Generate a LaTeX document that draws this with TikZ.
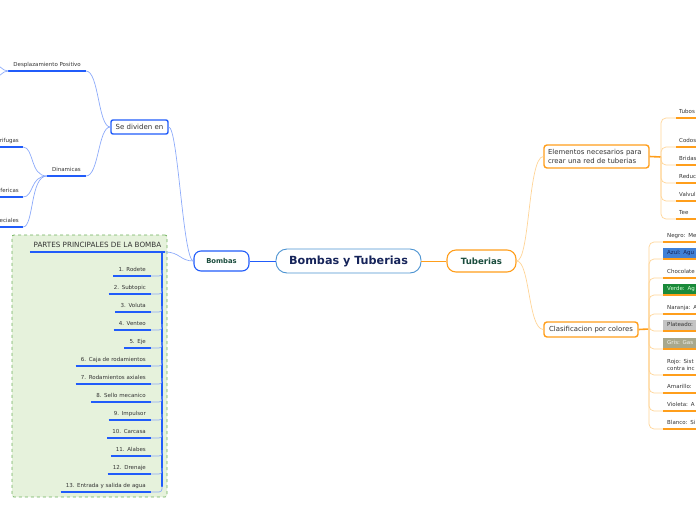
\documentclass[tikz,border=0pt]{standalone}
\usepackage{fontspec}
\setmainfont{DejaVu Sans}
\definecolor{bstrong}{RGB}{33,92,250}
\definecolor{blight}{RGB}{140,170,250}
\definecolor{ostrong}{RGB}{255,158,27}
\definecolor{olight}{RGB}{255,212,150}
\definecolor{gborder}{RGB}{110,176,90}
\definecolor{gfill}{RGB}{230,242,220}
\definecolor{cborder}{RGB}{75,147,209}
\definecolor{navy}{RGB}{22,36,90}
\definecolor{dgreen}{RGB}{27,77,62}
\definecolor{txt}{RGB}{51,51,51}
\definecolor{azulf}{RGB}{64,128,214}
\definecolor{verdef}{RGB}{26,138,58}
\definecolor{platef}{RGB}{196,196,196}
\definecolor{grisf}{RGB}{168,168,140}
\tikzset{
  item/.style={font=\fontsize{5.5}{7}\selectfont, text=txt, inner xsep=5pt, inner ysep=2.5pt, text height=4pt, text depth=1.5pt},
  ritem/.style={item, anchor=south west, text width=40pt, align=left, inner xsep=4pt},
  bul/.style={bstrong, line width=1.6pt},
  oul/.style={ostrong, line width=1.6pt},
  blc/.style={blight, line width=0.7pt},
  olc/.style={olight, line width=0.7pt},
}
\begin{document}
\begin{tikzpicture}[x=1pt,y=-1pt]
\useasboundingbox (0,0) rectangle (696,520);

% frame
\node[draw=gborder, fill=gfill, dashed, line width=0.8pt, rounded corners=2pt,
      minimum width=155pt, minimum height=262pt, inner sep=0pt] (frame) at (89.5,366) {};

% main nodes
\node[draw=cborder, fill=white, line width=0.9pt, rounded corners=11pt, minimum width=145pt,
      minimum height=24pt, text=navy, font=\fontsize{11.2}{13}\selectfont\bfseries] (center) at (348.5,261) {Bombas y Tuberias};
\node[draw=bstrong, fill=white, line width=1.1pt, rounded corners=7pt, minimum width=55pt,
      minimum height=20pt, text=dgreen, font=\fontsize{6.8}{8}\selectfont\bfseries] (bombas) at (221.5,261) {Bombas};
\node[draw=ostrong, fill=white, line width=1.1pt, rounded corners=9pt, minimum width=69pt,
      minimum height=22pt, text=dgreen, font=\fontsize{8.6}{10}\selectfont\bfseries] (tub) at (481.5,261) {Tuberias};

\draw[bstrong, line width=0.8pt] (center.west) -- (bombas.east);
\draw[ostrong, line width=0.8pt] (center.east) -- (tub.west);

% left side
\node[draw=bstrong, fill=white, line width=1.4pt, rounded corners=2pt, minimum width=57pt,
      minimum height=14pt, inner sep=1pt, text=txt, font=\fontsize{7}{8}\selectfont] (sed) at (139.5,127) {Se dividen en};
\node[item, anchor=south east, inner xsep=5pt] (dp) at (86,71) {Desplazamiento Positivo};
\node[item, anchor=south east] (din) at (86,176) {Dinamicas};
\node[item, anchor=south east, inner xsep=4pt] (c1) at (23,147) {rifugas};
\node[item, anchor=south east, inner xsep=4pt] (c2) at (23,197) {fericas};
\node[item, anchor=south east, inner xsep=4pt] (c3) at (23,227) {eciales};
\foreach \n in {dp,din,c1,c2,c3} \draw[bul] (\n.south west) -- (\n.south east);
\coordinate (dpa) at (-8,61);
\coordinate (dpb) at (-8,81);
\draw[blc] (dp.south west) .. controls (2,71) and (0,65) .. (dpa);
\draw[blc] (dp.south west) .. controls (2,71) and (0,77) .. (dpb);

\draw[blc] (sed.east) .. controls (178,127) and (183,261) .. (bombas.west);
\draw[blc] (sed.west) .. controls (98,127) and (99,71) .. (dp.south east);
\draw[blc] (sed.west) .. controls (98,127) and (99,176) .. (din.south east);
\draw[blc] (din.south west) .. controls (30,176) and (34,147) .. (c1.south east);
\draw[blc] (din.south west) .. controls (30,176) and (34,197) .. (c2.south east);
\draw[blc] (din.south west) .. controls (30,176) and (34,227) .. (c3.south east);

% partes principales
\node[item, anchor=south east, inner xsep=3.5pt, font=\fontsize{7.2}{8}\selectfont, text height=5.5pt] (hdr) at (165,252) {PARTES PRINCIPALES DE LA BOMBA};
\draw[bul] (hdr.south west) -- (hdr.south east);
\draw[blc] (bombas.west) .. controls (180,261) and (180,252) .. (hdr.south east);
\coordinate (sp0) at (162,252);
\coordinate (sp1) at (162,487);
\draw[bul] (sp0) -- (sp1);
\foreach \n/\y/\t in {1/276/1.\,~Rodete, 2/294/2.\,~Subtopic, 3/312/3.\,~Voluta, 4/330/4.\,~Venteo,
  5/348/5.\,~Eje, 6/366/6.\,~Caja de rodamientos, 7/384/7.\,~Rodamientos axiales,
  8/402/8.\,~Sello mecanico, 9/420/9.\,~Impulsor, 10/438/10.\,~Carcasa, 11/456/11.\,~Alabes,
  12/474/12.\,~Drenaje, 13/492/13.\,~Entrada y salida de agua} {
  \node[item, anchor=south east] (p\n) at (151,\y) {\t};
  \draw[bul] (p\n.south west) -- (p\n.south east);
  \draw[blc, rounded corners=3pt] (p\n.south east) -| (sp1 |- 0,\y-6);
}

% right side
\node[draw=ostrong, fill=white, line width=1.4pt, rounded corners=3pt, minimum width=105pt,
      minimum height=23pt, inner xsep=4pt, text=txt, align=left, text width=97pt,
      font=\fontsize{6.9}{8.5}\selectfont] (elem) at (596.5,156.5) {Elementos necesarios para\\crear una red de tuberias};
\node[draw=ostrong, fill=white, line width=1.4pt, rounded corners=3pt, minimum width=94pt,
      minimum height=15pt, inner xsep=4pt, text=txt,
      font=\fontsize{6.9}{8}\selectfont] (clas) at (591,329.5) {Clasificacion por colores};
\draw[olc] (tub.east) .. controls (530,261) and (528,157) .. (elem.west);
\draw[olc] (tub.east) .. controls (530,261) and (528,329) .. (clas.west);

\coordinate (ej) at (661,157);
\draw[oul] (elem.east) -- (ej);
\foreach \n/\y/\t in {1/118/Tubos, 2/147/Codos, 3/165/Bridas, 4/183/Reduc, 5/201/Valvul, 6/219/Tee} {
  \node[ritem, inner xsep=3pt] (t\n) at (676,\y) {\t};
  \draw[olc, rounded corners=5pt] (ej) |- (t\n.south west);
  \draw[oul] (t\n.south west) -- (t\n.south east);
}

\coordinate (cj) at (649,329);
\draw[oul] (clas.east) -- (cj);
\node[ritem] (k1) at (663,242) {Negro: Me};
\node[ritem, fill=azulf, text=navy] (k2) at (663,259) {Azul: Agu};
\node[ritem] (k3) at (663,278) {Chocolate};
\node[ritem, fill=verdef, text=white!85!green] (k4) at (663,295) {Verde: Ag};
\node[ritem] (k5) at (663,314) {Naranja: A};
\node[ritem, fill=platef, text=txt] (k6) at (663,331) {Plateado:};
\node[ritem, fill=grisf, text=white!85!grisf] (k7) at (663,349) {Gris: Gas};
\node[ritem, text depth=9pt] (k8) at (663,375) {Rojo: Sist\\contra inc};
\node[ritem] (k9) at (663,393) {Amarillo:};
\node[ritem] (k10) at (663,411) {Violeta: A};
\node[ritem] (k11) at (663,429) {Blanco: Si};
\foreach \n in {1,...,11} {
  \draw[olc, rounded corners=5pt] (cj) |- (k\n.south west);
  \draw[oul] (k\n.south west) -- (k\n.south east);
}
\end{tikzpicture}
\end{document}
